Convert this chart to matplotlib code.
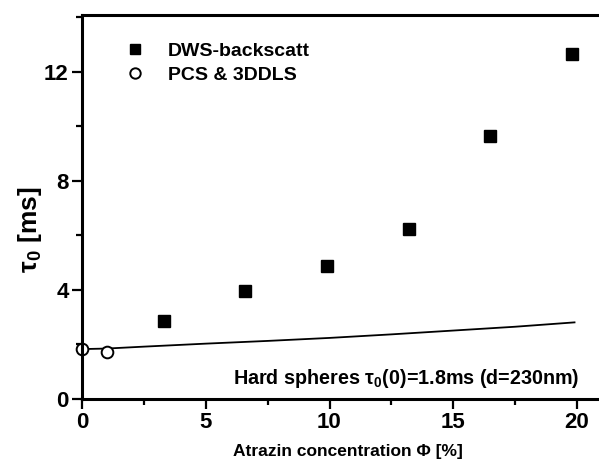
import matplotlib
matplotlib.use('Agg')
import matplotlib.pyplot as plt
import matplotlib.ticker as mticker
from matplotlib.lines import Line2D

# measured points
dws_phi = [3.3, 6.6, 9.9, 13.2, 16.5, 19.8]
dws_tau = [2.86, 3.97, 4.89, 6.22, 9.64, 12.64]
pcs_phi = [0.0, 1.0]
pcs_tau = [1.84, 1.72]
# hard sphere curve
hs_phi = [0, 1, 2.5, 5, 7.5, 10, 12.5, 15, 17.5, 19.9]
hs_tau = [1.83, 1.85, 1.92, 2.03, 2.13, 2.24, 2.37, 2.51, 2.65, 2.81]

x_ticks = [0, 5, 10, 15, 20]
y_ticks = [0, 4, 8, 12]

plt.rcParams['font.family'] = ['Liberation Sans', 'DejaVu Sans']
plt.rcParams['font.weight'] = 'bold'
plt.rcParams['mathtext.fontset'] = 'custom'
plt.rcParams['mathtext.rm'] = 'Liberation Sans:bold'
plt.rcParams['mathtext.it'] = 'Liberation Sans:bold'
plt.rcParams['mathtext.bf'] = 'Liberation Sans:bold'
plt.rcParams['mathtext.default'] = 'bf'

fig = plt.figure(figsize=(5.99, 4.62), dpi=100)
ax = fig.add_axes([82 / 599, 63 / 462, 517 / 599, 384 / 462])

ax.plot(hs_phi, hs_tau, color='black', lw=1.3, zorder=1)
ax.plot(dws_phi, dws_tau, ls='none', marker='s', ms=8.9, color='black', zorder=3)
ax.plot(pcs_phi, pcs_tau, ls='none', marker='o', ms=8.4, mfc='white', mec='black',
        mew=1.4, zorder=2, clip_on=False)

ax.set_xlim(0, 517 / 24.75)
ax.set_ylim(0, 384 / 27.27)
ax.set_xticks(x_ticks)
ax.set_yticks(y_ticks)
ax.xaxis.set_minor_locator(mticker.MultipleLocator(2.5))
ax.yaxis.set_minor_locator(mticker.MultipleLocator(2))

for s in ['left', 'bottom', 'top']:
    ax.spines[s].set_linewidth(2.2)
ax.spines['right'].set_visible(False)

ax.tick_params(which='major', direction='out', length=7.2, width=1.6, labelsize=16, pad=2.5)
ax.tick_params(which='minor', direction='out', length=4, width=1.6)
ax.tick_params(top=False, right=False)

ax.set_ylabel(r'τ$_0$ [ms]', fontsize=19, fontweight='bold', va='center')
ax.yaxis.set_label_coords(-0.1006, 0.44)
ax.set_xlabel('Atrazin concentration Φ [%]', fontsize=12.5, fontweight='bold', va='center')
ax.xaxis.set_label_coords(0.5145, -0.138)

ax.text(0.292, 0.039, r'Hard spheres τ$_0$(0)=1.8ms (d=230nm)', transform=ax.transAxes,
        fontsize=14.2, fontweight='bold', va='baseline', ha='left')

handles = [
    Line2D([], [], ls='none', marker='s', ms=6.5, color='black'),
    Line2D([], [], ls='none', marker='o', ms=7.5, mfc='white', mec='black', mew=1.4),
]
ax.legend(handles, ['DWS-backscatt', 'PCS & 3DDLS'], loc='upper left',
          bbox_to_anchor=(0.0838, 0.9297), frameon=False, fontsize=14,
          handlelength=1.0, handletextpad=1.2, borderpad=0, borderaxespad=0,
          labelspacing=0.34)

fig.savefig('out.png', dpi=100)
